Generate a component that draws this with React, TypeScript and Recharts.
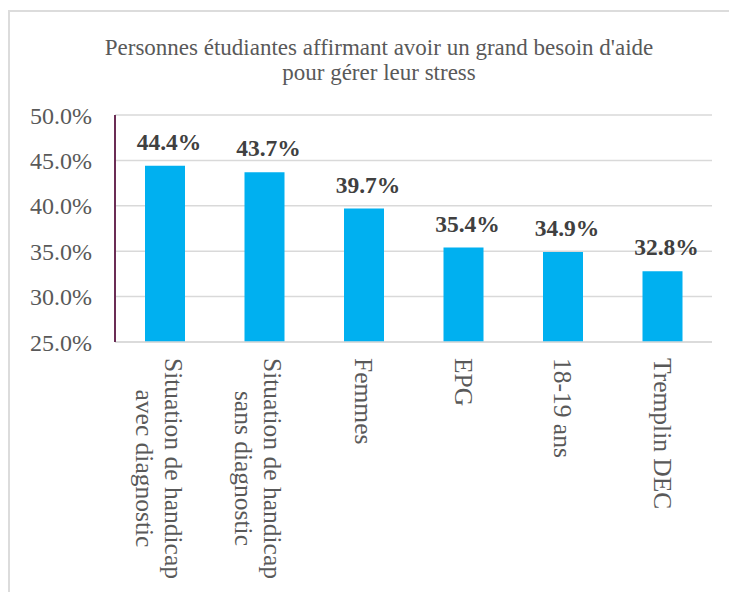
import React from 'react';
import { BarChart, Bar, XAxis, YAxis, CartesianGrid, LabelList } from 'recharts';

const titleLines = [
  "Personnes étudiantes affirmant avoir un grand besoin d'aide",
  'pour gérer leur stress',
];
const categories = [
  'Situation de handicap\navec diagnostic',
  'Situation de handicap\nsans diagnostic',
  'Femmes',
  'EPG',
  '18-19 ans',
  'Tremplin DEC',
];
const values = [44.4, 43.7, 39.7, 35.4, 34.9, 32.8];
const yTicks = [25, 30, 35, 40, 45, 50];

const data = categories.map((c, i) => ({ name: c, value: values[i] }));

const SERIF = '"Liberation Serif", "Times New Roman", serif';
const X_FONT_SIZE = 25.5;

let ctx: CanvasRenderingContext2D | null = null;
function measure(s: string, font: string): number {
  if (!ctx) ctx = document.createElement('canvas').getContext('2d');
  if (!ctx) return s.length * 10;
  ctx.font = font;
  return ctx.measureText(s).width;
}

const XTick = (props: any) => {
  const { x, y, payload } = props;
  const lines = String(payload.value).split('\n');
  const font = `${X_FONT_SIZE}px "Liberation Serif"`;
  const widths = lines.map((l) => measure(l, font));
  const maxW = Math.max(...widths);
  const offsets = lines.length === 1 ? [0] : [-8.7, 20.5];
  return (
    <g transform={`translate(${x},${y + 16}) rotate(90)`}>
      {lines.map((l, i) => (
        <text
          key={i}
          x={(maxW - widths[i]) / 2}
          y={offsets[i]}
          dominantBaseline="central"
          fontFamily={SERIF}
          fontSize={X_FONT_SIZE}
          fill="#595959"
        >
          {l}
        </text>
      ))}
    </g>
  );
};

const BarLabel = (props: any) => {
  const { x, y, width, value } = props;
  return (
    <text
      x={Number(x) + Number(width) / 2 + 4}
      y={Number(y) - 16}
      textAnchor="middle"
      fontFamily={SERIF}
      fontWeight="bold"
      fontSize={23.5}
      fill="#404040"
    >
      {Number(value).toFixed(1)}%
    </text>
  );
};

export default function App() {
  return (
    <div
      style={{
        position: 'absolute',
        left: 0,
        top: 0,
        width: 729,
        height: 592,
        overflow: 'hidden',
        background: '#ffffff',
      }}
    >
      <div
        style={{
          position: 'absolute',
          left: 8,
          top: 10,
          width: 800,
          height: 700,
          border: '2px solid #DCDCDC',
          boxSizing: 'border-box',
        }}
      />
      <div
        style={{
          position: 'absolute',
          left: 0,
          top: 34.7,
          width: 758,
          textAlign: 'center',
          fontFamily: SERIF,
          fontSize: 23,
          lineHeight: '25px',
          color: '#595959',
          whiteSpace: 'nowrap',
        }}
      >
        {titleLines.map((t, i) => (
          <div key={i}>{t}</div>
        ))}
      </div>
      <div style={{ position: 'absolute', left: 0, top: 0 }}>
        <BarChart
          width={729}
          height={592}
          data={data}
          margin={{ top: 115, right: 17, left: 0, bottom: 0 }}
        >
          <CartesianGrid vertical={false} stroke="#D9D9D9" strokeWidth={1.5} />
          <XAxis
            dataKey="name"
            interval={0}
            height={250}
            tickLine={false}
            tickSize={0}
            tickMargin={0}
            axisLine={{ stroke: '#D9D9D9', strokeWidth: 1.5 }}
            tick={<XTick />}
          />
          <YAxis
            domain={[25, 50]}
            ticks={yTicks}
            width={115}
            tickLine={false}
            tickSize={0}
            tickMargin={23}
            axisLine={{ stroke: '#6B2D55', strokeWidth: 2 }}
            tickFormatter={(v: number) => `${v.toFixed(1)}%`}
            tick={{ fill: '#595959', fontSize: 24, fontFamily: SERIF }}
            allowDataOverflow
          />
          <Bar dataKey="value" fill="#00B0F0" barSize={40} isAnimationActive={false}>
            <LabelList dataKey="value" content={<BarLabel />} />
          </Bar>
        </BarChart>
      </div>
    </div>
  );
}
